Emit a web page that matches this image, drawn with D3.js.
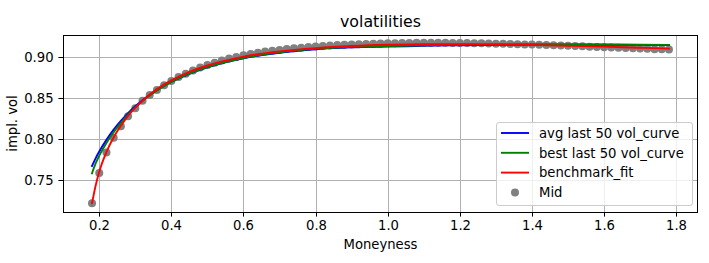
<!DOCTYPE html>
<html>
<head>
<meta charset="utf-8">
<script src="https://cdn.jsdelivr.net/npm/d3@7"></script>
<style>
  html, body { margin: 0; padding: 0; background: #fff; }
  svg { display: block; font-family: "DejaVu Sans", sans-serif; }
</style>
</head>
<body>
<svg id="chart" width="709" height="263"></svg>
<script>
// ---- data ----
const midX = d3.range(81).map(i => +(0.18 + i * 0.02).toFixed(2));
const midVol = [
  0.722, 0.759, 0.784, 0.802, 0.816, 0.828, 0.838, 0.847, 0.854, 0.860,
  0.866, 0.871, 0.876, 0.880, 0.884, 0.8875, 0.8905, 0.8935, 0.896, 0.8985,
  0.9005, 0.9025, 0.904, 0.9055, 0.907, 0.908, 0.909, 0.910, 0.911, 0.9118,
  0.9125, 0.9132, 0.9138, 0.9144, 0.9149, 0.9153, 0.9157, 0.916, 0.9163, 0.9166,
  0.9168, 0.917, 0.9172, 0.9174, 0.9175, 0.9176, 0.9177, 0.9177, 0.9177, 0.9176,
  0.9175, 0.9174, 0.9173, 0.9171, 0.917, 0.9168, 0.9166, 0.9164, 0.9162, 0.916,
  0.9157, 0.9155, 0.9152, 0.9149, 0.9146, 0.9143, 0.914, 0.9137, 0.9134, 0.913,
  0.9127, 0.9124, 0.912, 0.9117, 0.9113, 0.911, 0.9106, 0.9103, 0.9099, 0.9097, 0.9095
];
const curveX = [0.18, 0.19, 0.20, 0.22, 0.24, 0.26, 0.28, 0.30, 0.33, 0.36, 0.40, 0.45, 0.50,
                0.55, 0.60, 0.70, 0.80, 0.90, 1.00, 1.10, 1.20, 1.30, 1.40, 1.50, 1.60, 1.70, 1.78];
const avgVol = [0.7675, 0.7768, 0.7850, 0.7993, 0.8117, 0.8224, 0.8319, 0.8402, 0.8509, 0.8600, 0.8700, 0.8799, 0.8877,
                0.8939, 0.8988, 0.9056, 0.9098, 0.9121, 0.9130, 0.9140, 0.9147, 0.9151, 0.9153, 0.9154, 0.9153, 0.9151, 0.9149];
const bestVol = [0.7585, 0.7705, 0.7800, 0.7955, 0.8085, 0.8200, 0.8300, 0.8388, 0.8502, 0.8597, 0.8700, 0.8800, 0.8879,
                 0.8942, 0.8992, 0.9061, 0.9103, 0.9127, 0.9138, 0.9147, 0.9153, 0.9156, 0.9157, 0.9157, 0.9156, 0.9154, 0.9152];
const benchVol = [0.7220, 0.7435, 0.7605, 0.7845, 0.8025, 0.8165, 0.8285, 0.8385, 0.8510, 0.8612, 0.8718, 0.8822, 0.8900,
                  0.8960, 0.9008, 0.9072, 0.9112, 0.9138, 0.9153, 0.9160, 0.9161, 0.9157, 0.9150, 0.9141, 0.9130, 0.9117, 0.9106];
const xTicks = [0.2, 0.4, 0.6, 0.8, 1.0, 1.2, 1.4, 1.6, 1.8];
const yTicks = [0.75, 0.80, 0.85, 0.90];
const seriesNames = ["avg last 50 vol_curve", "best last 50 vol_curve", "benchmark_fit", "Mid"];
const seriesColors = ["#0000ff", "#008000", "#ff0000", "#808080"];

// ---- layout ----
const L = 63, R = 698, T = 35, B = 212;
const FS = 13.2;
const svg = d3.select("#chart");
const x = d3.scaleLinear().domain([0.0995, 1.8605]).range([L, R]);
const y = d3.scaleLinear().domain([0.7113, 0.9272]).range([B, T]);

// grid
const grid = svg.append("g");
grid.selectAll("line.gx").data(xTicks).join("line")
  .attr("x1", d => Math.round(x(d)) + 0.5).attr("x2", d => Math.round(x(d)) + 0.5)
  .attr("y1", T).attr("y2", B)
  .attr("stroke", "#b0b0b0").attr("stroke-width", 1);
grid.selectAll("line.gy").data(yTicks).join("line")
  .attr("y1", d => Math.round(y(d)) + 0.5).attr("y2", d => Math.round(y(d)) + 0.5)
  .attr("x1", L).attr("x2", R)
  .attr("stroke", "#b0b0b0").attr("stroke-width", 1);

// Mid dots
svg.append("g").selectAll("circle").data(midX).join("circle")
  .attr("cx", (d) => x(d)).attr("cy", (d, i) => y(midVol[i]))
  .attr("r", 4).attr("fill", "#808080");

// lines
const line = d3.line().x(d => x(d[0])).y(d => y(d[1])).curve(d3.curveMonotoneX);
[avgVol, bestVol, benchVol].forEach((vals, k) => {
  svg.append("path")
    .datum(curveX.map((cx, i) => [cx, vals[i]]))
    .attr("d", line)
    .attr("fill", "none")
    .attr("stroke", seriesColors[k])
    .attr("stroke-width", 1.9)
    .attr("stroke-linejoin", "round")
    .attr("stroke-linecap", "square");
});

// axes
const xAxis = d3.axisBottom(x).tickValues(xTicks).tickFormat(d3.format(".1f")).tickSizeOuter(0).tickSize(4.6).tickPadding(4);
const yAxis = d3.axisLeft(y).tickValues(yTicks).tickFormat(d3.format(".2f")).tickSizeOuter(0).tickSize(4.6).tickPadding(4.8);
const gx = svg.append("g").attr("transform", `translate(0,${B})`).call(xAxis);
const gy = svg.append("g").attr("transform", `translate(${L},0)`).call(yAxis);
[gx, gy].forEach(g => {
  g.select(".domain").remove();
  g.selectAll("text").attr("font-size", FS + "px").attr("fill", "#000").attr("font-family", "DejaVu Sans");
  g.selectAll("line").attr("stroke", "#000").attr("stroke-width", 1);
});
gx.selectAll(".tick").attr("transform", d => `translate(${Math.round(x(d)) + 0.5},0)`);
gy.selectAll(".tick").attr("transform", d => `translate(0,${Math.round(y(d)) + 0.5})`);
gy.selectAll("text").attr("dy", "0.36em");

// frame
svg.append("rect").attr("x", L + 0.5).attr("y", T + 0.5).attr("width", R - L - 1).attr("height", B - T)
  .attr("fill", "none").attr("stroke", "#000").attr("stroke-width", 1);

// titles
svg.append("text").attr("x", (L + R) / 2).attr("y", 27).attr("text-anchor", "middle")
  .attr("font-size", "15.8px").text("volatilities");
svg.append("text").attr("x", (L + R) / 2).attr("y", 249).attr("text-anchor", "middle")
  .attr("font-size", FS + "px").text("Moneyness");
svg.append("text").attr("transform", `translate(17,${(T + B) / 2}) rotate(-90)`).attr("text-anchor", "middle")
  .attr("font-size", FS + "px").text("impl. vol");

// legend
const lg = svg.append("g").attr("transform", "translate(496,122)");
lg.append("rect").attr("x", 0.5).attr("y", 0.5).attr("width", 196).attr("height", 83).attr("rx", 2.5)
  .attr("fill", "#fff").attr("fill-opacity", 0.8).attr("stroke", "#cccccc").attr("stroke-width", 1);
seriesNames.forEach((name, i) => {
  const cy = 11 + i * 19.8;
  if (i < 3) {
    lg.append("line").attr("x1", 5).attr("x2", 33).attr("y1", cy).attr("y2", cy)
      .attr("stroke", seriesColors[i]).attr("stroke-width", 1.9);
  } else {
    lg.append("circle").attr("cx", 19).attr("cy", cy).attr("r", 4).attr("fill", seriesColors[i]);
  }
  lg.append("text").attr("x", 43).attr("y", cy).attr("dy", "0.36em")
    .attr("font-size", FS + "px").text(name);
});
</script>
</body>
</html>
